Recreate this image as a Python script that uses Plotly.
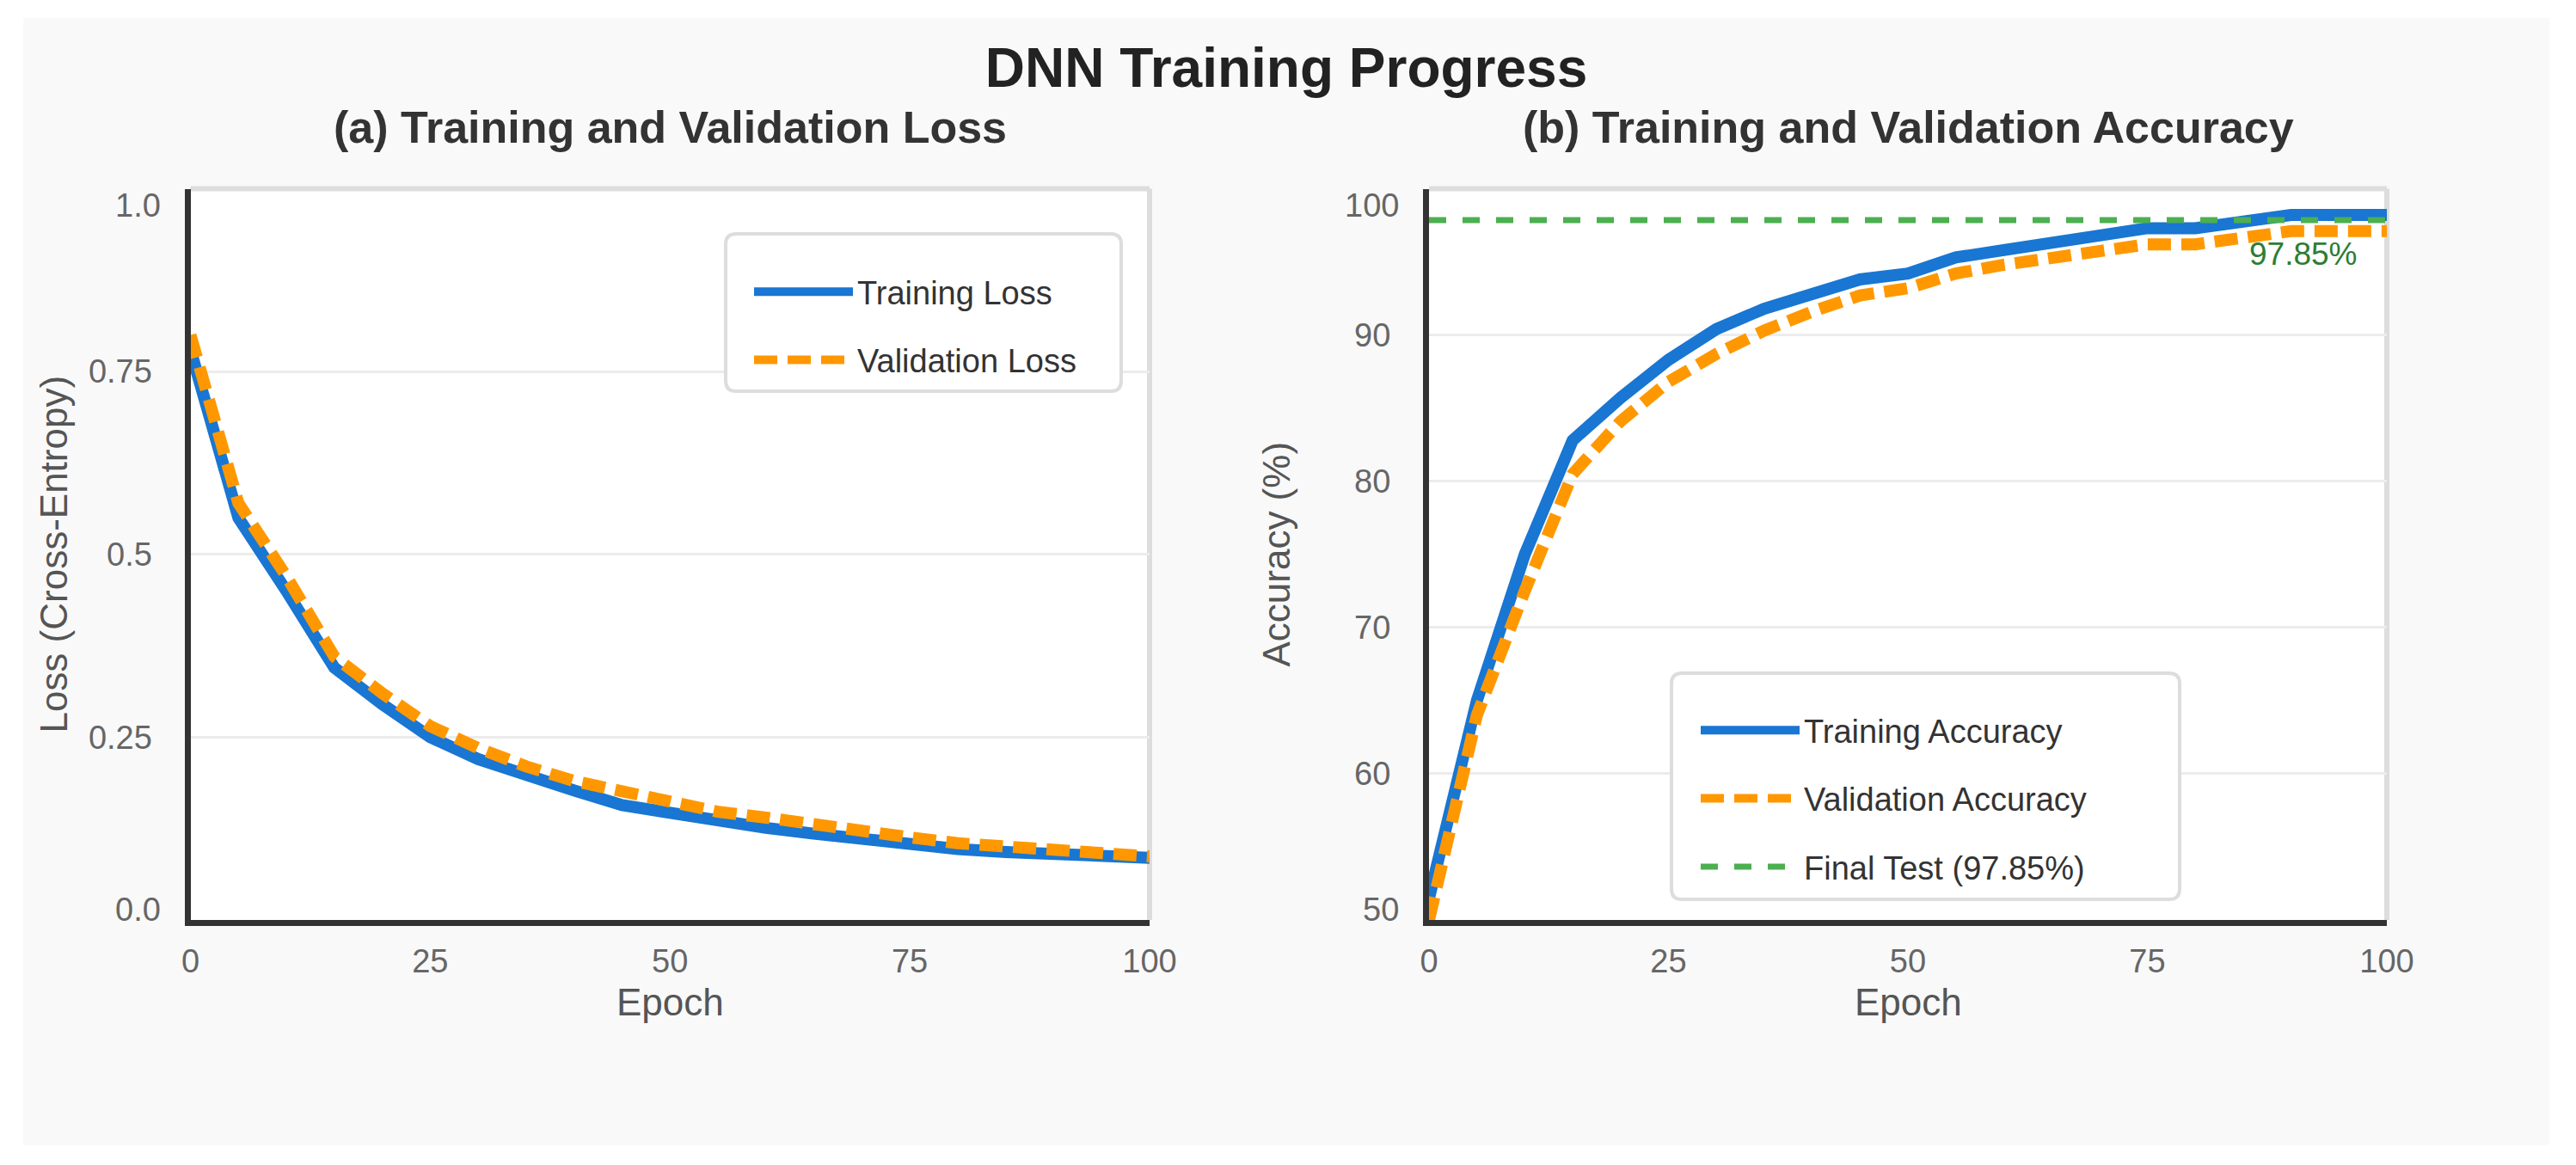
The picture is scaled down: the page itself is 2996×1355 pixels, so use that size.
import plotly.graph_objects as go

# ---------------- data ----------------
epochs = [0, 5, 10, 15, 20, 25, 30, 35, 40, 45, 50, 55, 60, 65, 70, 75, 80, 85, 90, 95, 100]
train_loss = [0.78, 0.55, 0.45, 0.345, 0.295, 0.25, 0.22, 0.197, 0.177, 0.157, 0.146, 0.135, 0.126,
              0.118, 0.11, 0.103, 0.097, 0.093, 0.09, 0.087, 0.085]
val_loss = [0.80, 0.57, 0.47, 0.36, 0.31, 0.265, 0.235, 0.21, 0.19, 0.175, 0.16, 0.148, 0.14,
            0.13, 0.122, 0.113, 0.105, 0.10, 0.095, 0.09, 0.087]
train_acc = [51.5, 65.0, 75.0, 82.8, 85.7, 88.3, 90.4, 91.8, 92.8, 93.8, 94.2, 95.3, 95.8,
             96.3, 96.7, 97.3, 97.3, 97.8, 98.2, 98.2, 98.2]
val_acc = [50.0, 64.0, 72.5, 80.5, 84.1, 86.8, 88.7, 90.3, 91.6, 92.7, 93.2, 94.2, 94.8,
           95.2, 95.7, 96.2, 96.2, 96.6, 97.1, 97.1, 97.1]
final_test_acc = 97.85

epoch_ticks = [0, 25, 50, 75, 100]
loss_ticks = [0.0, 0.25, 0.5, 0.75, 1.0]
loss_tick_text = ["0.0", "0.25", "0.5", "0.75", "1.0"]
acc_ticks = [50, 60, 70, 80, 90, 100]
acc_tick_text = ["50", "60", "70", "80", "90", "100"]

main_title = "DNN Training Progress"
sub_a = "(a) Training and Validation Loss"
sub_b = "(b) Training and Validation Accuracy"
x_title = "Epoch"
y_title_a = "Loss (Cross-Entropy)"
y_title_b = "Accuracy (%)"

# ---------------- geometry helpers (page pixels -> paper) ----------------
W, H = 2976, 1335
OFF = 8  # body margin


def px(x):
    return (x - OFF) / W


def py(y):
    return 1 - (y - OFF) / H


def rounded_box(x0, y0, x1, y1, r):
    """SVG path (paper coords) of a rounded rectangle given in page pixels."""
    X0, X1 = px(x0), px(x1)
    Y0, Y1 = py(y0), py(y1)  # Y0 top, Y1 bottom
    rx, ry = r / W, r / H
    return (f"M{X0 + rx},{Y0} L{X1 - rx},{Y0} Q{X1},{Y0} {X1},{Y0 - ry} "
            f"L{X1},{Y1 + ry} Q{X1},{Y1} {X1 - rx},{Y1} "
            f"L{X0 + rx},{Y1} Q{X0},{Y1} {X0},{Y1 + ry} "
            f"L{X0},{Y0 - ry} Q{X0},{Y0} {X0 + rx},{Y0} Z")


FONT = "Liberation Sans, Arial, Helvetica, sans-serif"
BLUE = "#1976d2"
ORANGE = "#ff9800"
GREEN = "#4caf50"

fig = go.Figure()

fig.add_trace(go.Scatter(x=epochs, y=train_loss, mode="lines", name="Training Loss",
                         line=dict(color=BLUE, width=14), xaxis="x", yaxis="y",
                         legend="legend", legendgroup="a1"))
fig.add_trace(go.Scatter(x=epochs, y=val_loss, mode="lines", name="Validation Loss",
                         line=dict(color=ORANGE, width=14, dash="27px,12px"), xaxis="x", yaxis="y",
                         legend="legend", legendgroup="a2"))
fig.add_trace(go.Scatter(x=epochs, y=train_acc, mode="lines", name="Training Accuracy",
                         line=dict(color=BLUE, width=14), xaxis="x2", yaxis="y2",
                         legend="legend2", legendgroup="b1"))
fig.add_trace(go.Scatter(x=epochs, y=val_acc, mode="lines", name="Validation Accuracy",
                         line=dict(color=ORANGE, width=14, dash="27px,12px"), xaxis="x2", yaxis="y2",
                         legend="legend2", legendgroup="b2"))
fig.add_trace(go.Scatter(x=[epochs[0], epochs[-1]], y=[final_test_acc, final_test_acc], mode="lines",
                         name=f"Final Test ({final_test_acc:.2f}%)",
                         line=dict(color=GREEN, width=7, dash="20px,19px"), xaxis="x2", yaxis="y2",
                         legend="legend2", legendgroup="b3"))

tickfont = dict(family=FONT, size=38, color="#666666")
titlefont = dict(family=FONT, size=44, color="#555555")


def xaxis_cfg(domain, anchor):
    return dict(domain=domain, anchor=anchor, range=[0, 100], tickvals=epoch_ticks,
                showgrid=False, zeroline=False, showline=True, linecolor="#333333", linewidth=7,
                ticks="", tickfont=tickfont, ticklabelstandoff=8, automargin=False,
                fixedrange=True)


def yaxis_cfg(domain, anchor, rng, vals, texts, title, standoff):
    shown = [t if (i != 0 and i != len(texts) - 1) else "" for i, t in enumerate(texts)]
    return dict(domain=domain, anchor=anchor, range=rng, tickvals=vals, ticktext=shown,
                showgrid=True, gridcolor="#ececec", gridwidth=3, zeroline=False,
                showline=True, linecolor="#333333", linewidth=7, ticks="",
                tickfont=tickfont, ticklabelstandoff=30, automargin=False,
                title=dict(text=title, font=titlefont, standoff=standoff), fixedrange=True)


ydom = [py(1070), py(219.5)]
xa = xaxis_cfg([px(221.5), px(1337)], "y")
xb = xaxis_cfg([px(1662), px(2776)], "y2")
ya = yaxis_cfg(ydom, "x", [0, 1], loss_ticks, loss_tick_text, y_title_a, 13)
yb = yaxis_cfg(ydom, "x2", [50, 100], acc_ticks, acc_tick_text, y_title_b, 63)

shapes = [
    dict(type="rect", xref="paper", yref="paper", x0=px(27), x1=px(2965), y0=py(1332), y1=py(21),
         fillcolor="#f9f9f9", line=dict(width=0), layer="below"),
]
for xr, yr in (("x", "y"), ("x2", "y2")):
    shapes.append(dict(type="rect", xref=f"{xr} domain", yref=f"{yr} domain", x0=0, x1=1, y0=0, y1=1,
                       fillcolor="white", line=dict(width=0), layer="below"))
    shapes.append(dict(type="line", xref=f"{xr} domain", yref=f"{yr} domain", x0=0, x1=1, y0=1, y1=1,
                       line=dict(color="#dddddd", width=6), layer="below"))
    shapes.append(dict(type="line", xref=f"{xr} domain", yref=f"{yr} domain", x0=1, x1=1, y0=0, y1=1,
                       line=dict(color="#dddddd", width=6), layer="below"))
# legend frames (rounded boxes)
for box in ((844, 272, 1304, 455), (1944, 783, 2535, 1046)):
    shapes.append(dict(type="path", xref="paper", yref="paper", path=rounded_box(*box, 12),
                       fillcolor="white", line=dict(color="#dddddd", width=4), layer="above"))

annotations = [
    dict(text=f"<b>{sub_a}</b>", xref="x domain", yref="paper", x=0.5, y=py(148), xanchor="center",
         yanchor="middle", showarrow=False, font=dict(family=FONT, size=52, color="#333333")),
    dict(text=f"<b>{sub_b}</b>", xref="x2 domain", yref="paper", x=0.5, y=py(148), xanchor="center",
         yanchor="middle", showarrow=False, font=dict(family=FONT, size=52, color="#333333")),
    dict(text=x_title, xref="x domain", yref="paper", x=0.5, y=py(1165), xanchor="center",
         yanchor="middle", showarrow=False, font=titlefont),
    dict(text=x_title, xref="x2 domain", yref="paper", x=0.5, y=py(1165), xanchor="center",
         yanchor="middle", showarrow=False, font=titlefont),
    dict(text=f"{final_test_acc:.2f}%", xref="x2", yref="y2", x=epochs[-1], y=final_test_acc,
         xanchor="right", yanchor="middle", xshift=-32, yshift=-39, showarrow=False,
         font=dict(family=FONT, size=37, color="#2e7d32")),
]
# flush end tick labels of the y axes
for yr, xr, vals, texts in (("y", "x", loss_ticks, loss_tick_text), ("y2", "x2", acc_ticks, acc_tick_text)):
    for idx, shift in ((len(vals) - 1, -20), (0, 12)):
        annotations.append(dict(text=texts[idx], xref=f"{xr} domain", yref=yr, x=0, y=vals[idx],
                                xanchor="right", yanchor="middle", xshift=-33, yshift=shift,
                                showarrow=False, font=tickfont))

legend_common = dict(bgcolor="rgba(0,0,0,0)", borderwidth=0,
                     font=dict(family=FONT, size=38, color="#333333"),
                     xanchor="left", yanchor="top", tracegroupgap=27, itemwidth=115,
                     traceorder="grouped")

fig.update_layout(
    width=W, height=H,
    margin=dict(l=0, r=0, t=0, b=0, pad=0),
    paper_bgcolor="white", plot_bgcolor="white",
    font=dict(family=FONT),
    title=dict(text=f"<b>{main_title}</b>", x=0.5, xanchor="center", xref="paper",
               y=py(78.5), yref="container", yanchor="middle",
               font=dict(family=FONT, size=64, color="#222222")),
    xaxis=xa, yaxis=ya, xaxis2=xb, yaxis2=yb,
    legend=dict(x=px(872), y=py(308), **legend_common),
    legend2=dict(x=px(1973), y=py(818), **legend_common),
    shapes=shapes, annotations=annotations,
    showlegend=True,
)

fig.write_html("out.html")
